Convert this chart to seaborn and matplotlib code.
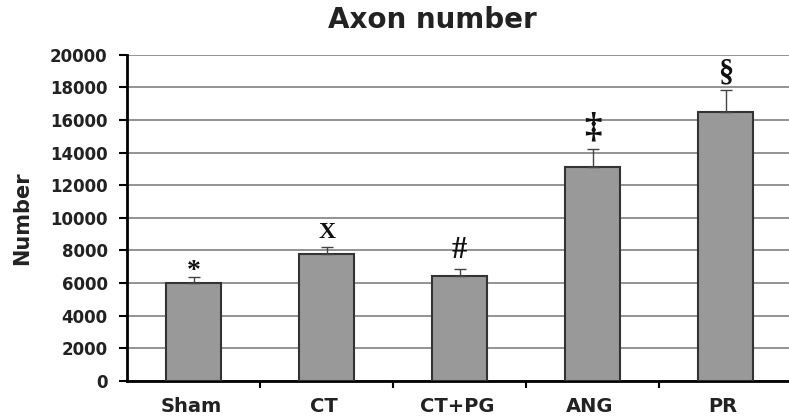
import matplotlib
matplotlib.use("Agg")
import matplotlib.pyplot as plt
import seaborn as sns
import pandas as pd
import numpy as np

categories = ["Sham", "CT", "CT+PG", "ANG", "PR"]
values = [6030, 7800, 6450, 13150, 16520]
errors = [350, 430, 420, 1060, 1330]
markers = ["*", "X", "#", "‡", "§"]
yticks = [0, 2000, 4000, 6000, 8000, 10000, 12000, 14000, 16000, 18000, 20000]

sns.set_theme(style="white")
plt.rcParams['font.family'] = ['DejaVu Sans']

fig = plt.figure(figsize=(7.89, 4.19), dpi=100)
ax = fig.add_axes([0.161, 0.091, 0.843, 0.778])

df = pd.DataFrame({"cat": categories, "val": values})
sns.barplot(data=df, x="cat", y="val", ax=ax, color="#999999", width=0.41,
            edgecolor="#333333", linewidth=1.5, saturation=1, errorbar=None, zorder=3)

xs = np.arange(len(categories))
ax.errorbar(xs, values, yerr=[np.zeros(len(values)), errors], fmt="none",
            ecolor="#444444", elinewidth=1, capsize=4, capthick=1, zorder=4)

# marker styles: (offset, fontsize, weight)
mstyle = {
    "*": (-450, 20, "bold"),
    "X": (200, 17, "bold"),
    "#": (250, 22, "bold"),
    "‡": (300, 25, "bold"),
    "§": (150, 22, "bold"),
}
for x, v, e, m in zip(xs, values, errors, markers):
    off, fs, fw = mstyle[m]
    ax.text(x, v + e + off, m, ha="center", va="bottom", fontsize=fs,
            fontweight=fw, family="Liberation Serif", color="#111111")

ax.set_ylim(0, 20000)
ax.set_xlim(-0.5, 4.5)
ax.set_yticks(yticks)
ax.set_yticklabels([str(t) for t in yticks], fontweight="bold", fontsize=12,
                   color="#222222")
ax.yaxis.grid(True, color="#808080", linewidth=1.2, zorder=0)
ax.set_axisbelow(True)

ax.set_xticks([0.5, 1.5, 2.5, 3.5])
ax.set_xticklabels([])
for x, c in zip(xs, categories):
    ax.text(x - 0.02, -1000, c, ha="center", va="top", fontsize=14, fontweight="bold",
            color="#222222", clip_on=False)

ax.tick_params(axis="y", direction="out", length=6, width=1.5, color="black", pad=8, left=True)
ax.tick_params(axis="x", direction="out", length=5, width=1.5, color="black", bottom=True)

for s in ["top", "right"]:
    ax.spines[s].set_visible(False)
for s in ["left", "bottom"]:
    ax.spines[s].set_color("black")
    ax.spines[s].set_linewidth(2)

ax.set_xlabel("")
ax.set_ylabel("Number", fontsize=15, fontweight="bold", labelpad=13, color="#222222")
fig.text(432 / 789, 1 - 28 / 419, "Axon number", ha="center", va="baseline",
         fontsize=20, fontweight="bold", color="#222222")

fig.savefig("out.png", dpi=100)
